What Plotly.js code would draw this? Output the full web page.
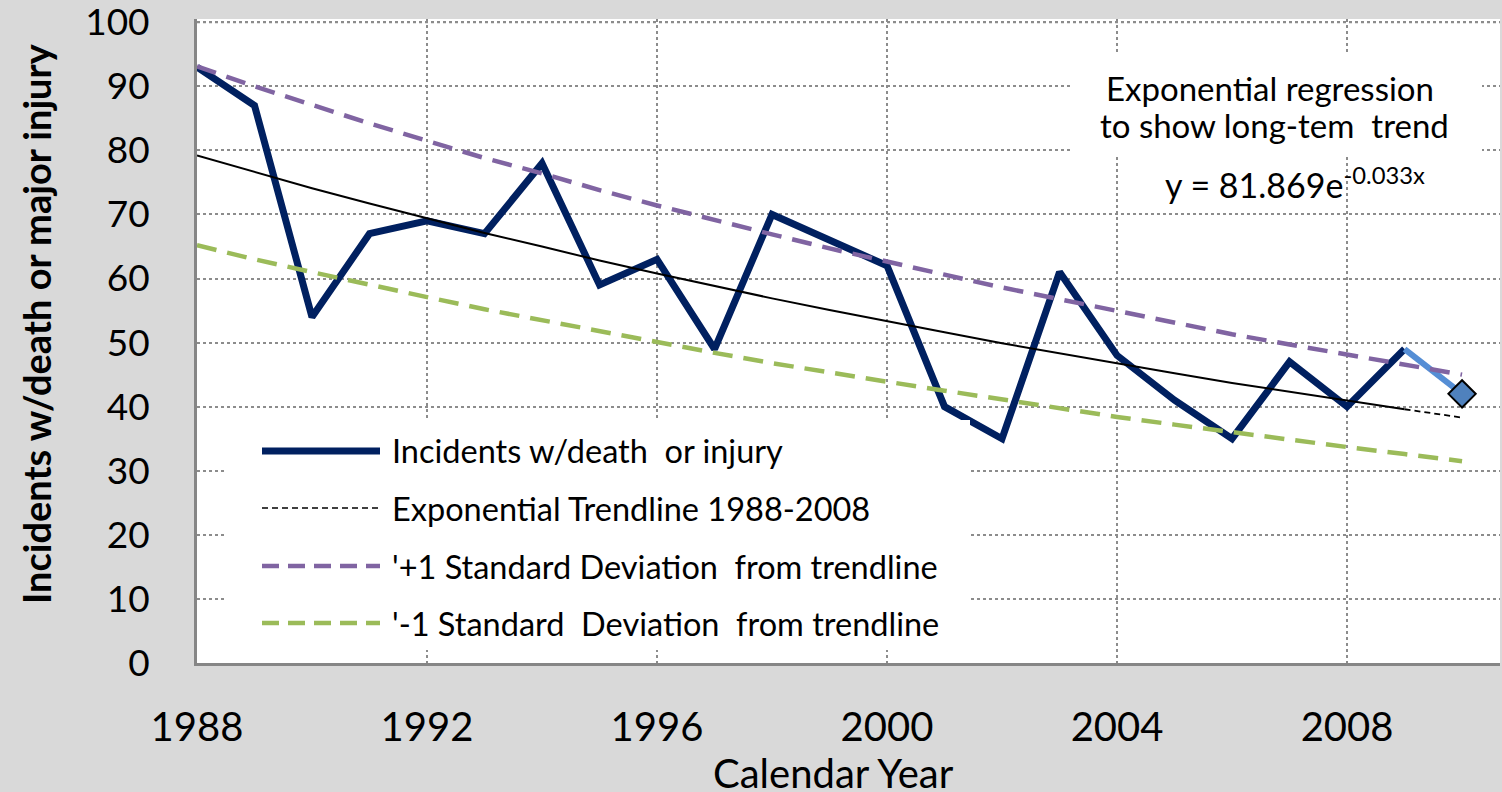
<!DOCTYPE html>
<html>
<head>
<meta charset="utf-8">
<script src="https://cdn.plot.ly/plotly-3.0.1.min.js"></script>
<style>
html,body{margin:0;padding:0;background:#d9d9d9;}
#chart{width:1502px;height:792px;}
</style>
</head>
<body>
<div id="chart"></div>
<script>
// ---- data ----
const years = [1988,1989,1990,1991,1992,1993,1994,1995,1996,1997,1998,1999,2000,2001,2002,2003,2004,2005,2006,2007,2008,2009,2010];
const incidentYears = [1988,1989,1990,1991,1992,1993,1994,1995,1996,1997,1998,1999,2000,2001,2002,2003,2004,2005,2006,2007,2008,2009];
const incidents = [93,87,54,67,69,67,78,59,63,49,70,66,62,40,35,61,48,41,35,47,40,49];
const latestYears = [2009,2010];
const latestValues = [49,42];
const trendYears = [1988,1989,1990,1991,1992,1993,1994,1995,1996,1997,1998,1999,2000,2001,2002,2003,2004,2005,2006,2007,2008,2009];
const trend = [79.2,76.6,74.1,71.7,69.4,67.1,65.0,62.8,60.8,58.8,56.9,55.1,53.3,51.6,49.9,48.3,46.7,45.2,43.7,42.3,40.9,39.6];
const trendExtYears = [2009,2010];
const trendExt = [39.6,38.3];
const plusSD = [93.1,90.0,87.1,84.2,81.5,78.8,76.4,73.8,71.4,69.1,66.9,64.7,62.6,60.6,58.6,56.8,54.9,53.1,51.3,49.7,48.1,46.5,45.0];
const minusSD = [65.2,63.0,61.0,59.0,57.1,55.2,53.5,51.7,50.0,48.4,46.8,45.3,43.9,42.5,41.1,39.8,38.4,37.2,36.0,34.8,33.7,32.6,31.5];
const xTicks = [1988,1992,1996,2000,2004,2008];
const yTicks = [0,10,20,30,40,50,60,70,80,90,100];
const legendNames = ["Incidents w/death  or injury","Exponential Trendline 1988-2008","'+1 Standard Deviation  from trendline","'-1 Standard  Deviation  from trendline"];
const xTitle = "Calendar Year";
const yTitle = "Incidents w/death or major injury";

// ---- styles ----
const navy = "#002060", lightBlue = "#558ED5", purple = "#8064A2", green = "#9BBB59";
const FONT = "Lato, 'Open Sans', sans-serif";

const traces = [
  {x: incidentYears, y: incidents, mode: "lines", line: {color: navy, width: 7}, name: legendNames[0]},
  {x: latestYears, y: latestValues, mode: "lines", line: {color: lightBlue, width: 6}},
  {x: latestYears.slice(1), y: latestValues.slice(1), mode: "markers",
   marker: {symbol: "diamond", size: 21, color: "#4F81BD", line: {color: "#000", width: 2}}},
  {x: trendYears, y: trend, mode: "lines", line: {color: "#000", width: 2}, name: legendNames[1]},
  {x: trendExtYears, y: trendExt, mode: "lines", line: {color: "#000", width: 1.8, dash: "6px,4px"}},
  {x: years, y: plusSD, mode: "lines", line: {color: purple, width: 4.5, dash: "20px,11px"}, name: legendNames[2]},
  {x: years, y: minusSD, mode: "lines", line: {color: green, width: 4.5, dash: "20px,11px"}, name: legendNames[3]}
];

// pixel -> paper helpers for decorations (plot area 197..1500 x, 19..663 y)
const PL = 197, PW = 1303, PT = 19, PH = 644;
const px = v => (v - PL) / PW;
const py = v => (PT + PH - v) / PH;

const shapes = [
  {type: "line", xref: "paper", yref: "y", x0: 0, x1: 1, y0: yTicks[yTicks.length - 1], y1: yTicks[yTicks.length - 1],
   line: {color: "#8c8c8c", width: 2, dash: "dot"}, layer: "below"},
  {type: "rect", xref: "paper", yref: "paper", x0: px(225), x1: px(970), y0: py(650), y1: py(420),
   fillcolor: "#fff", line: {width: 0}, layer: "above"},
  {type: "rect", xref: "paper", yref: "paper", x0: px(1072), x1: px(1482), y0: py(155), y1: py(52),
   fillcolor: "#fff", line: {width: 0}, layer: "above"}
];
const legendRows = [451, 508, 566, 623];
const legendStyles = [
  {color: navy, width: 7},
  {color: "#000", width: 1.5, dash: "6px,4px"},
  {color: purple, width: 4.5, dash: "17px,9px"},
  {color: green, width: 4.5, dash: "17px,9px"}
];
legendRows.forEach((r, i) => {
  shapes.push({type: "line", xref: "paper", yref: "paper", x0: px(262), x1: px(380), y0: py(r), y1: py(r),
    line: legendStyles[i], layer: "above"});
});

const annotations = legendRows.map((r, i) => ({
  xref: "paper", yref: "paper", x: px(390), y: py(r), xanchor: "left", yanchor: "middle",
  text: legendNames[i], showarrow: false, font: {family: FONT, size: 32.5, color: "#000"}
}));
annotations.push({
  xref: "paper", yref: "paper", x: px(1270), y: py(88), xanchor: "center", yanchor: "middle",
  text: "Exponential regression", showarrow: false,
  font: {family: FONT, size: 33, color: "#000"}
});
annotations.push({
  xref: "paper", yref: "paper", x: px(1274), y: py(125), xanchor: "center", yanchor: "middle",
  text: "to show long-tem  trend", showarrow: false,
  font: {family: FONT, size: 33, color: "#000"}
});
annotations.push({
  xref: "paper", yref: "paper", x: px(1295), y: py(183), xanchor: "center", yanchor: "middle",
  text: "y = 81.869e<sup>-0.033x</sup>", showarrow: false,
  font: {family: FONT, size: 34, color: "#000"}
});
// axis titles, placed where the reference has them
annotations.push({
  xref: "paper", yref: "paper", x: px(36), y: py(324), xanchor: "center", yanchor: "middle",
  text: "<b>" + yTitle + "</b>", textangle: -90, showarrow: false,
  font: {family: FONT, size: 38, color: "#000"}
});
annotations.push({
  xref: "paper", yref: "paper", x: px(833), y: py(773), xanchor: "center", yanchor: "middle",
  text: xTitle, showarrow: false, borderpad: 0,
  font: {family: FONT, size: 40, color: "#000"}
});

const layout = {
  width: 1502, height: 792,
  paper_bgcolor: "#d9d9d9", plot_bgcolor: "#ffffff",
  margin: {l: PL, r: 1502 - PL - PW, t: PT, b: 792 - PT - PH},
  showlegend: false,
  xaxis: {
    range: [1988, 2010.66], tickvals: xTicks, ticktext: xTicks.map(String),
    showgrid: true, gridcolor: "#8c8c8c", gridwidth: 2, griddash: "dot",
    showline: true, linecolor: "#868686", linewidth: 3, zeroline: false,
    ticks: "", ticklabelstandoff: 27,
    tickfont: {family: FONT, size: 40, color: "#000"}
  },
  yaxis: {
    range: [0, 100.5], tickvals: yTicks,
    showgrid: true, gridcolor: "#8c8c8c", gridwidth: 2, griddash: "dot",
    showline: true, linecolor: "#868686", linewidth: 3, zeroline: false,
    ticks: "", ticklabelstandoff: 37, ticklabeloverflow: "allow",
    tickfont: {family: FONT, size: 37, color: "#000"}
  },
  shapes: shapes,
  annotations: annotations
};

Plotly.newPlot("chart", traces, layout, {displayModeBar: false, staticPlot: true});
</script>
</body>
</html>
